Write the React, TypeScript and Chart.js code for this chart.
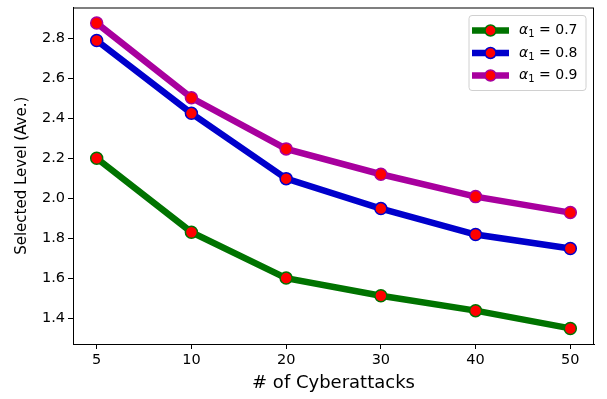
import React, { useEffect, useRef } from "react";
import { Chart, registerables } from "chart.js";

Chart.register(...registerables);

const xLabels = ["5", "10", "20", "30", "40", "50"];
const yTicks = [1.4, 1.6, 1.8, 2.0, 2.2, 2.4, 2.6, 2.8];
const alpha07 = [2.2, 1.83, 1.6, 1.512, 1.437, 1.348];
const alpha08 = [2.79, 2.425, 2.098, 1.948, 1.818, 1.748];
const alpha09 = [2.877, 2.503, 2.247, 2.12, 2.008, 1.928];
const seriesNames = ["0.7", "0.8", "0.9"];
const seriesColors = ["#007300", "#0000cc", "#a8009e"];

const FONT = "DejaVu Sans";

const framePlugin = {
  id: "frame",
  afterDatasetsDraw(chart: any) {
    const { ctx, chartArea } = chart;
    ctx.save();
    ctx.strokeStyle = "#000";
    ctx.lineWidth = 1;
    ctx.strokeRect(chartArea.left + 0.5, chartArea.top + 0.5, chartArea.right - chartArea.left - 1, chartArea.bottom - chartArea.top);
    ctx.restore();
  },
  afterDraw(chart: any) {
    const { ctx, chartArea } = chart;
    const boxW = 117;
    const boxH = 75;
    const bx = chartArea.right - 8 - boxW;
    const by = chartArea.top + 8;
    ctx.save();
    ctx.beginPath();
    const r = 3;
    ctx.moveTo(bx + r, by);
    ctx.lineTo(bx + boxW - r, by);
    ctx.quadraticCurveTo(bx + boxW, by, bx + boxW, by + r);
    ctx.lineTo(bx + boxW, by + boxH - r);
    ctx.quadraticCurveTo(bx + boxW, by + boxH, bx + boxW - r, by + boxH);
    ctx.lineTo(bx + r, by + boxH);
    ctx.quadraticCurveTo(bx, by + boxH, bx, by + boxH - r);
    ctx.lineTo(bx, by + r);
    ctx.quadraticCurveTo(bx, by, bx + r, by);
    ctx.closePath();
    ctx.fillStyle = "rgba(255,255,255,0.8)";
    ctx.fill();
    ctx.strokeStyle = "#d0d0d0";
    ctx.lineWidth = 1;
    ctx.stroke();
    for (let i = 0; i < seriesNames.length; i++) {
      const cy = by + 15 + i * 22.5;
      ctx.beginPath();
      ctx.moveTo(bx + 3, cy);
      ctx.lineTo(bx + 40, cy);
      ctx.strokeStyle = seriesColors[i];
      ctx.lineWidth = 6.5;
      ctx.stroke();
      ctx.beginPath();
      ctx.arc(bx + 21.5, cy, 5.5, 0, Math.PI * 2);
      ctx.fillStyle = "#ff0000";
      ctx.fill();
      ctx.lineWidth = 1.5;
      ctx.strokeStyle = seriesColors[i];
      ctx.stroke();
      ctx.fillStyle = "#000";
      ctx.textBaseline = "middle";
      ctx.textAlign = "left";
      let tx = bx + 50;
      ctx.font = `italic 14px '${FONT}'`;
      ctx.fillText("α", tx, cy);
      tx += ctx.measureText("α").width;
      ctx.font = `10px '${FONT}'`;
      ctx.fillText("1", tx, cy + 4);
      tx += ctx.measureText("1").width;
      ctx.font = `14px '${FONT}'`;
      ctx.fillText(" = " + seriesNames[i], tx, cy);
    }
    ctx.restore();
  },
};

export default function App() {
  const ref = useRef<HTMLCanvasElement>(null);
  useEffect(() => {
    const all = [alpha07, alpha08, alpha09];
    const chart = new Chart(ref.current!, {
      type: "line",
      data: {
        datasets: all.map((arr, i) => ({
          label: "α1 = " + seriesNames[i],
          data: arr.map((v, k) => ({ x: k, y: v })),
          borderColor: seriesColors[i],
          backgroundColor: "#ff0000",
          borderWidth: 6.5,
          pointRadius: 6,
          pointBorderWidth: 1.5,
          pointBorderColor: seriesColors[i],
          pointBackgroundColor: "#ff0000",
          tension: 0,
          fill: false,
          order: 3 - i,
        })),
      },
      options: {
        animation: false,
        responsive: false,
        maintainAspectRatio: false,
        layout: { padding: { left: 0, top: 3, right: 13, bottom: 0 } },
        plugins: { legend: { display: false }, tooltip: { enabled: false } },
        scales: {
          x: {
            type: "linear",
            min: -0.25,
            max: 5.25,
            afterBuildTicks: (axis: any) => {
              axis.ticks = xLabels.map((_, k) => ({ value: k }));
            },
            afterFit: (axis: any) => {
              axis.height = 55;
              axis.paddingLeft = 0;
              axis.paddingRight = 0;
            },
            ticks: {
              callback: (v: any) => xLabels[v as number],
              color: "#000",
              font: { family: FONT, size: 14.5 },
              padding: 3,
              maxRotation: 0,
            },
            grid: { drawOnChartArea: false, drawTicks: true, tickLength: 5, color: "#000" },
            border: { color: "#000", width: 1 },
            title: {
              display: true,
              text: "# of Cyberattacks",
              color: "#000",
              font: { family: FONT, size: 18 },
              padding: { top: 0, bottom: 5 },
            },
          },
          y: {
            type: "linear",
            min: 1.27,
            max: 2.955,
            afterBuildTicks: (axis: any) => {
              axis.ticks = yTicks.map((v) => ({ value: v }));
            },
            afterFit: (axis: any) => {
              axis.width = 73;
              axis.paddingTop = 0;
              axis.paddingBottom = 0;
            },
            ticks: {
              callback: (v: any) => Number(v).toFixed(1),
              color: "#000",
              font: { family: FONT, size: 14.5 },
              padding: 3,
            },
            grid: { drawOnChartArea: false, drawTicks: true, tickLength: 5, color: "#000" },
            border: { color: "#000", width: 1 },
            title: {
              display: true,
              text: "Selected Level (Ave.)",
              color: "#000",
              font: { family: FONT, size: 15 },
              padding: { top: 13, bottom: 0 },
            },
          },
        },
      },
      plugins: [framePlugin],
    } as any);
    return () => chart.destroy();
  }, []);
  return (
    <div style={{ position: "fixed", left: 0, top: 0, width: 607, height: 399, background: "#fff" }}>
      <canvas ref={ref} width={607} height={399} style={{ width: 607, height: 399 }} />
    </div>
  );
}
